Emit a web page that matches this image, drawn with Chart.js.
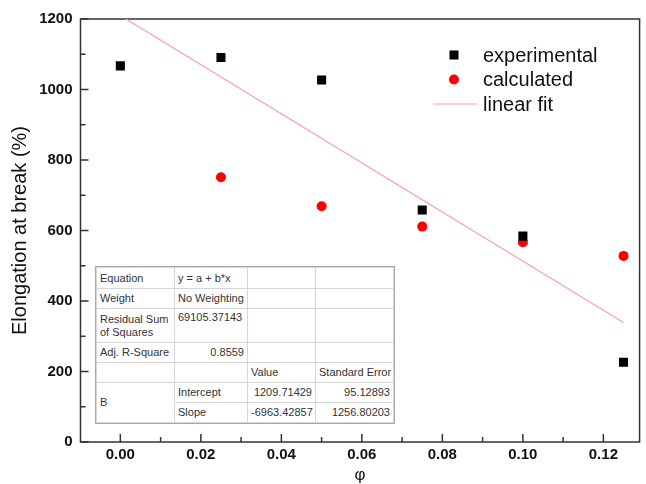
<!DOCTYPE html>
<html>
<head>
<meta charset="utf-8">
<script src="https://cdn.jsdelivr.net/npm/chart.js@4.4.0/dist/chart.umd.min.js"></script>
<style>
  html, body { margin: 0; padding: 0; background: #fff; }
  #wrap { position: relative; width: 646px; height: 484px; }
  #fitTable {
    position: absolute; left: 96px; top: 267px; width: 297px;
    border-collapse: collapse; table-layout: fixed; background: #fff;
    font: 11px Arial, "Liberation Sans", sans-serif; color: #333;
    outline: 1px solid #a8a8a8;
  }
  #fitTable td {
    border: 1px solid #d6d6d6; padding: 0 3px; line-height: 13px;
    white-space: nowrap; overflow: hidden; vertical-align: middle;
  }
  #fitTable td.num { text-align: right; }
  #fitTable td.top { vertical-align: top; padding-top: 2px; }
</style>
</head>
<body>
<div id="wrap">
  <canvas id="chart" width="646" height="484"></canvas>
  <table id="fitTable"></table>
</div>
<script>
// elongation at break (%) vs. filler fraction φ
const phi = [0, 0.025, 0.05, 0.075, 0.1, 0.125];
const experimental = [1067, 1091, 1027, 658, 584, 226];
const calculated = [null, 751, 669, 611, 567, 528];

const xTicks = [0, 0.02, 0.04, 0.06, 0.08, 0.10, 0.12];
const yTicks = [0, 200, 400, 600, 800, 1000, 1200];

// linear fit of the experimental points, y = a + b*x
const fitIntercept = 1209.71429;
const fitSlope = -6963.42857;
const fitInterceptErr = 95.12893;
const fitSlopeErr = 1256.80203;
const fitRSS = 69105.37143;
const fitAdjR2 = 0.8559;

const FONT = 'Arial, "Liberation Sans", sans-serif';

// fit results box
document.getElementById('fitTable').innerHTML = `
  <colgroup><col style="width:78px"><col style="width:73px"><col style="width:68px"><col style="width:78px"></colgroup>
  <tr style="height:21px"><td>Equation</td><td>y = a + b*x</td><td></td><td></td></tr>
  <tr style="height:20px"><td>Weight</td><td>No Weighting</td><td></td><td></td></tr>
  <tr style="height:34px"><td>Residual Sum<br>of Squares</td><td class="top">${fitRSS.toFixed(5)}</td><td></td><td></td></tr>
  <tr style="height:20px"><td>Adj. R-Square</td><td class="num">${fitAdjR2}</td><td></td><td></td></tr>
  <tr style="height:20px"><td></td><td></td><td>Value</td><td>Standard Error</td></tr>
  <tr style="height:20px"><td rowspan="2">B</td><td>Intercept</td><td class="num">${fitIntercept.toFixed(5)}</td><td class="num">${fitInterceptErr.toFixed(5)}</td></tr>
  <tr style="height:20px"><td>Slope</td><td class="num">${fitSlope.toFixed(5)}</td><td class="num">${fitSlopeErr.toFixed(5)}</td></tr>`;

// box around the plot and inward tick marks
const frameTicks = {
  id: 'frameTicks',
  beforeDatasetsDraw(chart) {
    const {ctx, chartArea: a, scales} = chart;
    ctx.save();
    ctx.strokeStyle = '#333';
    ctx.lineWidth = 1.5;
    ctx.strokeRect(a.left, a.top, a.right - a.left, a.bottom - a.top);
    ctx.beginPath();
    xTicks.forEach((v, i) => {
      const px = scales.x.getPixelForValue(v);
      ctx.moveTo(px, a.bottom); ctx.lineTo(px, a.bottom - 8);
      if (i < xTicks.length - 1) {
        const m = scales.x.getPixelForValue((v + xTicks[i + 1]) / 2);
        ctx.moveTo(m, a.bottom); ctx.lineTo(m, a.bottom - 5);
      }
    });
    yTicks.forEach((v, i) => {
      const py = scales.y.getPixelForValue(v);
      ctx.moveTo(a.left, py); ctx.lineTo(a.left + 8, py);
      if (i < yTicks.length - 1) {
        const m = scales.y.getPixelForValue((v + yTicks[i + 1]) / 2);
        ctx.moveTo(a.left, m); ctx.lineTo(a.left + 5, m);
      }
    });
    ctx.stroke();
    ctx.restore();
  }
};

// legend in the upper right of the plot
const legendBox = {
  id: 'legendBox',
  afterDraw(chart) {
    const ctx = chart.ctx;
    ctx.save();
    ctx.font = '20px ' + FONT;
    ctx.textBaseline = 'middle';
    chart.data.datasets.forEach((ds, i) => {
      const y = 55 + i * 24.5;
      if (ds.showLine) {
        ctx.strokeStyle = ds.borderColor;
        ctx.lineWidth = ds.borderWidth;
        ctx.beginPath();
        ctx.moveTo(433, y); ctx.lineTo(477, y);
        ctx.stroke();
      } else {
        ctx.fillStyle = ds.backgroundColor;
        Chart.helpers.drawPoint(ctx, {pointStyle: ds.pointStyle, radius: ds.pointRadius, borderWidth: 0, rotation: 0}, 454, y);
      }
      ctx.fillStyle = '#111';
      ctx.fillText(ds.label, 483, y + 1);
    });
    ctx.restore();
  }
};

const tickFont = {family: FONT, size: 15, weight: 'bold'};

new Chart(document.getElementById('chart'), {
  type: 'scatter',
  data: {
    datasets: [
      {
        label: 'experimental',
        data: phi.map((x, i) => ({x, y: experimental[i]})),
        pointStyle: 'rect', pointRadius: 6.4, borderWidth: 0,
        backgroundColor: '#000', borderColor: '#000'
      },
      {
        label: 'calculated',
        data: phi.map((x, i) => ({x, y: calculated[i]})).filter(p => p.y !== null),
        pointStyle: 'circle', pointRadius: 5, borderWidth: 0,
        backgroundColor: '#ff0000', borderColor: '#ff0000'
      },
      {
        label: 'linear fit',
        data: [phi[0], phi[phi.length - 1]].map(x => ({x, y: fitIntercept + fitSlope * x})),
        showLine: true, pointRadius: 0, borderWidth: 1.2,
        borderColor: 'rgb(250,160,160)', backgroundColor: 'rgb(250,160,160)'
      }
    ]
  },
  options: {
    responsive: false,
    animation: false,
    layout: {padding: {top: 19, right: 3, left: 0, bottom: 0}},
    plugins: {legend: {display: false}, tooltip: {enabled: false}},
    scales: {
      x: {
        type: 'linear', min: -0.0099, max: 0.1290,
        grid: {display: false, drawTicks: false},
        border: {display: false},
        afterBuildTicks: s => { s.ticks = xTicks.map(v => ({value: v})); },
        afterFit: s => { s.height = 42; },
        ticks: {padding: 4, autoSkip: false, maxRotation: 0, font: tickFont, color: '#111',
          callback: v => Number(v).toFixed(2)},
        title: {display: true, text: 'φ', color: '#111',
          font: {family: FONT, size: 17, lineHeight: 1}, padding: {top: 0, bottom: 0}}
      },
      y: {
        type: 'linear', min: 0, max: 1200,
        grid: {display: false, drawTicks: false},
        border: {display: false},
        afterBuildTicks: s => { s.ticks = yTicks.map(v => ({value: v})); },
        afterFit: s => { s.width = 80.5; },
        ticks: {padding: 8, autoSkip: false, font: tickFont, color: '#111',
          callback: v => String(v)},
        title: {display: true, text: 'Elongation at break (%)', color: '#111',
          font: {family: FONT, size: 20, lineHeight: 1}, padding: {top: 10, bottom: 0}}
      }
    }
  },
  plugins: [frameTicks, legendBox]
});
</script>
</body>
</html>
